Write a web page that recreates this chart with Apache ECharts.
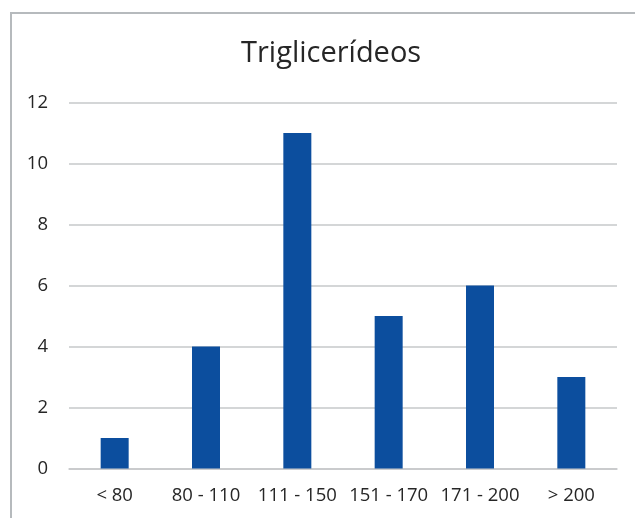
<!DOCTYPE html>
<html>
<head>
<meta charset="utf-8">
<script src="https://cdn.jsdelivr.net/npm/echarts@6/dist/echarts.min.js"></script>
<style>
  html, body { margin: 0; padding: 0; background: #fff; }
  #chart { width: 635px; height: 518px; }
</style>
</head>
<body>
<div id="chart"></div>
<script>
// Triglyceride ranges (mg/dL) and number of patients in each
const categories = ['< 80', '80 - 110', '111 - 150', '151 - 170', '171 - 200', '> 200'];
const counts = [1, 4, 11, 5, 6, 3];
const yTicks = { min: 0, max: 12, interval: 2 };
const titleText = 'Triglicerídeos';

const chart = echarts.init(document.getElementById('chart'), null, { renderer: 'canvas' });

chart.setOption({
  backgroundColor: '#ffffff',
  animation: false,
  title: {
    text: titleText,
    left: 236,
    top: 34,
    textStyle: {
      fontFamily: 'Open Sans',
      fontSize: 29,
      fontWeight: 'normal',
      color: '#262626'
    }
  },
  graphic: [{
    type: 'rect',
    shape: { x: 11, y: 13, width: 660, height: 560 },
    style: { fill: 'none', stroke: '#b6babd', lineWidth: 2 },
    silent: true,
    z: -1
  }],
  grid: {
    left: 69,
    right: 18,
    top: 102.5,
    bottom: 49.5,
    containLabel: false
  },
  xAxis: {
    type: 'category',
    data: categories,
    axisLine: { show: true, lineStyle: { color: '#c6c8ca', width: 1.5 } },
    axisTick: { show: false },
    axisLabel: {
      interval: 0,
      hideOverlap: false,
      fontFamily: 'Open Sans',
      fontSize: 18.5,
      color: '#262626',
      margin: 18
    }
  },
  yAxis: {
    type: 'value',
    min: yTicks.min,
    max: yTicks.max,
    interval: yTicks.interval,
    axisLine: { show: false },
    axisTick: { show: false },
    splitLine: { lineStyle: { color: '#c6c8ca', width: 1.5 } },
    axisLabel: {
      fontFamily: 'Open Sans',
      fontSize: 18.5,
      color: '#262626',
      margin: 21
    }
  },
  series: [{
    type: 'bar',
    data: counts,
    barWidth: 28,
    itemStyle: { color: '#0c4e9e' }
  }]
});
</script>
</body>
</html>
